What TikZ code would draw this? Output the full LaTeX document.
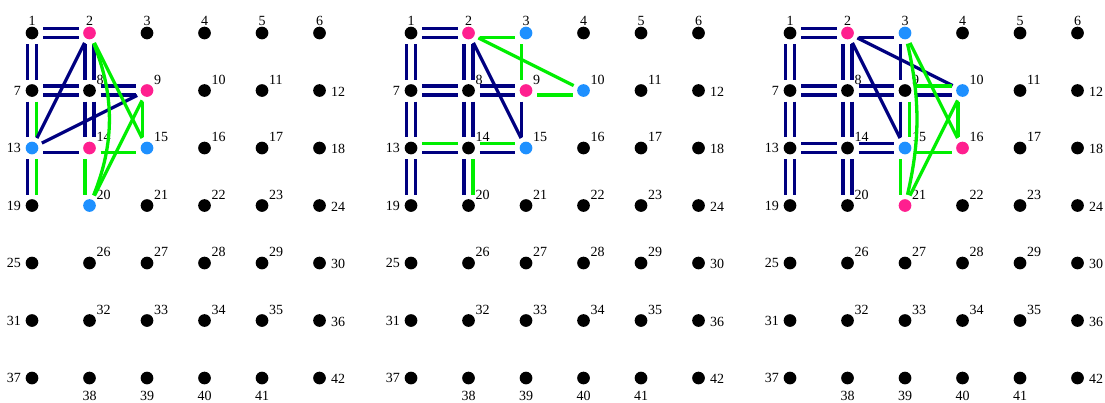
\documentclass[tikz,border=0pt]{standalone}
\usepackage{fontspec}
\setmainfont{Liberation Serif}
\definecolor{navyc}{HTML}{000080}
\definecolor{greenc}{HTML}{00EE00}
\definecolor{pinkc}{HTML}{FF1F8F}
\definecolor{bluec}{HTML}{1E90FF}
\def\setcol#1#2#3{\expandafter\def\csname col-#1-#2\endcsname{#3}}
\setcol{1}{2}{pinkc}\setcol{1}{9}{pinkc}\setcol{1}{14}{pinkc}
\setcol{1}{13}{bluec}\setcol{1}{15}{bluec}\setcol{1}{20}{bluec}
\setcol{2}{2}{pinkc}\setcol{2}{9}{pinkc}
\setcol{2}{3}{bluec}\setcol{2}{10}{bluec}\setcol{2}{15}{bluec}
\setcol{3}{2}{pinkc}\setcol{3}{16}{pinkc}\setcol{3}{21}{pinkc}
\setcol{3}{3}{bluec}\setcol{3}{10}{bluec}\setcol{3}{15}{bluec}
% horizontal edge: style, panel, a, b, yshift
\newcommand\edgeh[5]{\draw[#1] ([yshift=#5]p#2n#3.center) -- ([yshift=#5]p#2n#4.center);}
% vertical edge: style, panel, a, b, xshift
\newcommand\edgev[5]{\draw[#1] ([xshift=#5]p#2n#3.center) -- ([xshift=#5]p#2n#4.center);}
% diagonal edge
\newcommand\edged[4]{\draw[#1] (p#2n#3.center) -- (p#2n#4.center);}
% double navy
\newcommand\dblh[3]{\edgeh{nv}{#1}{#2}{#3}{4.5pt}\edgeh{nv}{#1}{#2}{#3}{-4.5pt}}
\newcommand\dblv[3]{\edgev{nv}{#1}{#2}{#3}{-4.5pt}\edgev{nv}{#1}{#2}{#3}{4.5pt}}
\begin{document}
\begin{tikzpicture}[x=1pt,y=-1pt,
  dot/.style={circle, inner sep=0pt, minimum size=12.7pt, draw=none},
  lab/.style={inner sep=0pt, font=\fontsize{14}{14}\selectfont},
  nv/.style={draw=navyc, line width=3.3pt, shorten <=11pt, shorten >=11pt},
  gr/.style={draw=greenc, line width=3.3pt, shorten <=11pt, shorten >=11pt}]
\useasboundingbox (0,0) rectangle (1105,402);
\foreach \p in {1,2,3}{
  \foreach \i in {1,...,42}{
    \pgfmathtruncatemacro\c{mod(\i-1,6)}
    \pgfmathtruncatemacro\r{div(\i-1,6)}
    \pgfmathsetmacro\X{32+57.5*\c+379*(\p-1)}
    \pgfmathsetmacro\Y{33+57.5*\r}
    \edef\thecol{\ifcsname col-\p-\i\endcsname\csname col-\p-\i\endcsname\else black\fi}
    \node[dot, fill=\thecol] (p\p n\i) at (\X,\Y) {};
    \ifnum\r=0
      \node[lab, anchor=base] (l\p n\i) at (\X,\Y-7.5) {\i};
    \else\ifnum\c=0
      \node[lab, anchor=base east] (l\p n\i) at (\X-11,\Y+4.5) {\i};
    \else\ifnum\c=5
      \node[lab, anchor=base west] (l\p n\i) at (\X+11.5,\Y+5.5) {\i};
    \else\ifnum\r=6
      \node[lab, anchor=base] (l\p n\i) at (\X,\Y+22.5) {\i};
    \else
      \node[lab, anchor=base west] (l\p n\i) at (\X+7,\Y-6.5) {\i};
    \fi\fi\fi\fi
  }
}
% ---------- panel 1 ----------
\dblh{1}{1}{2}\dblh{1}{7}{8}\dblh{1}{8}{9}
\dblv{1}{1}{7}\dblv{1}{2}{8}\dblv{1}{8}{14}
\edgev{nv}{1}{7}{13}{-4.5pt}\edgev{gr}{1}{7}{13}{4.5pt}
\edgev{nv}{1}{13}{19}{-4.5pt}\edgev{gr}{1}{13}{19}{4.5pt}
\edgeh{nv}{1}{13}{14}{-4.5pt}
\edgeh{gr}{1}{14}{15}{-4.5pt}
\edgev{gr}{1}{14}{20}{-4.5pt}
\edgev{gr}{1}{9}{15}{-4.5pt}
\edged{nv}{1}{2}{13}\edged{nv}{1}{9}{13}
\edged{gr}{1}{2}{15}\edged{gr}{1}{9}{20}
\draw[gr] (p1n2.center) to[bend left=22] (p1n20.center);
% ---------- panel 2 ----------
\dblh{2}{1}{2}\dblh{2}{7}{8}\dblh{2}{8}{9}
\dblv{2}{1}{7}\dblv{2}{2}{8}\dblv{2}{7}{13}\dblv{2}{8}{14}\dblv{2}{13}{19}
\edgev{nv}{2}{14}{20}{-4.5pt}\edgev{gr}{2}{14}{20}{4.5pt}
\edgeh{gr}{2}{13}{14}{4.5pt}\edgeh{nv}{2}{13}{14}{-4.5pt}
\edgeh{gr}{2}{14}{15}{4.5pt}\edgeh{nv}{2}{14}{15}{-4.5pt}
\edgeh{gr}{2}{2}{3}{-4.5pt}
\edgev{gr}{2}{3}{9}{-4.5pt}
\edgeh{gr}{2}{9}{10}{-4.5pt}
\edged{gr}{2}{2}{10}
\edged{nv}{2}{2}{15}
\edgev{nv}{2}{9}{15}{-4.5pt}
% ---------- panel 3 ----------
\dblh{3}{1}{2}\dblh{3}{7}{8}\dblh{3}{8}{9}\dblh{3}{13}{14}\dblh{3}{14}{15}
\dblv{3}{1}{7}\dblv{3}{2}{8}\dblv{3}{7}{13}\dblv{3}{8}{14}\dblv{3}{13}{19}\dblv{3}{14}{20}
\edgeh{nv}{3}{2}{3}{-4.5pt}
\edged{nv}{3}{2}{10}\edged{nv}{3}{2}{15}
\edgev{nv}{3}{3}{9}{-4.5pt}
\edgeh{gr}{3}{9}{10}{4.5pt}\edgeh{nv}{3}{9}{10}{-4.5pt}
\edgev{nv}{3}{9}{15}{-4.5pt}\edgev{gr}{3}{9}{15}{4.5pt}
\edgev{gr}{3}{15}{21}{-4.5pt}
\edgev{gr}{3}{10}{16}{-4.5pt}
\edgeh{gr}{3}{15}{16}{-4.5pt}
\edged{gr}{3}{3}{16}\edged{gr}{3}{10}{21}
\draw[gr] (p3n3.center) to[bend left=13] (p3n21.center);
\end{tikzpicture}
\end{document}
